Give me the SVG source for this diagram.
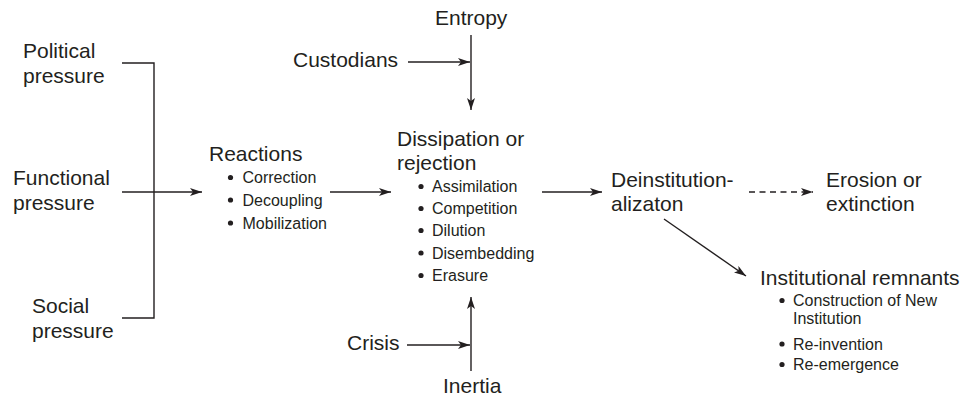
<svg xmlns="http://www.w3.org/2000/svg" width="963" height="397" viewBox="0 0 963 397">
<style>
text{font-family:"Liberation Sans",Arial,sans-serif;fill:#231f20}
.m{font-size:21px}
.b{font-size:16px}
.ln{fill:none;stroke:#231f20;stroke-width:1.4}
.dot{fill:#231f20}
</style>
<defs>
<marker id="ah" viewBox="0 0 12 8" refX="12" refY="4" markerWidth="12" markerHeight="8" markerUnits="userSpaceOnUse" orient="auto">
<path d="M0,0 L12,4 L0,8 L3,4 Z" fill="#231f20"/>
</marker>
</defs>
<rect width="963" height="397" fill="#fff"/>
<g id="connectors">
<path class="ln" d="M122,63 H154 V318 H122"/>
<line class="ln" x1="122" y1="192" x2="202" y2="192" marker-end="url(#ah)"/>
<line class="ln" x1="330" y1="192" x2="391" y2="192" marker-end="url(#ah)"/>
<line class="ln" x1="408" y1="62" x2="470" y2="62" marker-end="url(#ah)"/>
<line class="ln" x1="471" y1="35" x2="471" y2="110" marker-end="url(#ah)"/>
<line class="ln" x1="471" y1="371" x2="471" y2="297" marker-end="url(#ah)"/>
<line class="ln" x1="407" y1="345" x2="470" y2="345" marker-end="url(#ah)"/>
<line class="ln" x1="542" y1="192" x2="602" y2="192" marker-end="url(#ah)"/>
<line class="ln" x1="749" y1="192" x2="813" y2="192" stroke-dasharray="6,4.5" marker-end="url(#ah)"/>
<line class="ln" x1="664" y1="219" x2="746" y2="276" marker-end="url(#ah)"/>
</g>
<g id="political"><text class="m" x="23" y="58">Political</text><text class="m" x="23" y="83">pressure</text></g>
<g id="functional"><text class="m" x="13" y="185">Functional</text><text class="m" x="13" y="210">pressure</text></g>
<g id="social"><text class="m" x="32" y="313">Social</text><text class="m" x="32" y="338">pressure</text></g>
<g id="reactions">
<text class="m" x="209" y="161">Reactions</text>
<circle class="dot" cx="230.5" cy="177.5" r="2.6"/><text class="b" x="242.5" y="183">Correction</text>
<circle class="dot" cx="230.5" cy="200" r="2.6"/><text class="b" x="242.5" y="205.5">Decoupling</text>
<circle class="dot" cx="230.5" cy="223" r="2.6"/><text class="b" x="242.5" y="228.5">Mobilization</text>
</g>
<g id="entropy"><text class="m" x="435" y="25">Entropy</text></g>
<g id="custodians"><text class="m" x="293" y="67">Custodians</text></g>
<g id="dissipation">
<text class="m" x="397" y="146">Dissipation or</text>
<text class="m" x="397" y="169.5">rejection</text>
<circle class="dot" cx="421" cy="186.5" r="2.6"/><text class="b" x="432" y="192">Assimilation</text>
<circle class="dot" cx="421" cy="208.5" r="2.6"/><text class="b" x="432" y="214">Competition</text>
<circle class="dot" cx="421" cy="230.5" r="2.6"/><text class="b" x="432" y="236">Dilution</text>
<circle class="dot" cx="421" cy="253" r="2.6"/><text class="b" x="432" y="258.5">Disembedding</text>
<circle class="dot" cx="421" cy="275.5" r="2.6"/><text class="b" x="432" y="281">Erasure</text>
</g>
<g id="crisis"><text class="m" x="347" y="350">Crisis</text></g>
<g id="inertia"><text class="m" x="443" y="393">Inertia</text></g>
<g id="deinstitutionalization"><text class="m" x="611" y="187">Deinstitution-</text><text class="m" x="611" y="211">alizaton</text></g>
<g id="erosion"><text class="m" x="826" y="187">Erosion or</text><text class="m" x="826" y="211">extinction</text></g>
<g id="remnants">
<text class="m" x="760" y="285">Institutional remnants</text>
<circle class="dot" cx="782" cy="300.5" r="2.6"/><text class="b" x="793" y="306">Construction of New</text>
<text class="b" x="793" y="323.5">Institution</text>
<circle class="dot" cx="782" cy="344" r="2.6"/><text class="b" x="793" y="349.5">Re-invention</text>
<circle class="dot" cx="782" cy="364.5" r="2.6"/><text class="b" x="793" y="370">Re-emergence</text>
</g>
</svg>
